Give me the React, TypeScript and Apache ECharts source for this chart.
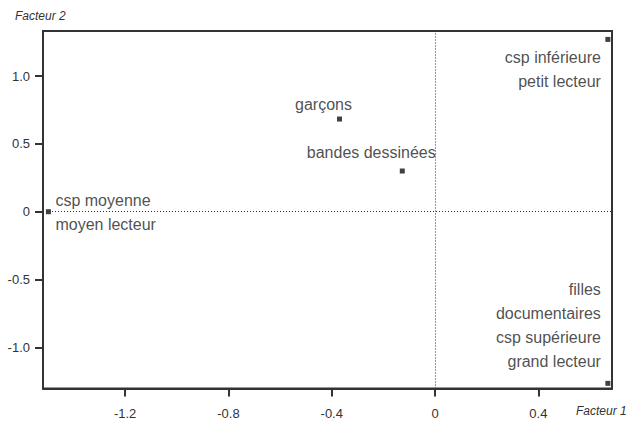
import React, { useEffect, useRef } from "react";
import * as echarts from "echarts";

const pointLabels = [
  "csp inférieure\npetit lecteur",
  "garçons",
  "bandes dessinées",
  "csp moyenne\nmoyen lecteur",
  "filles\ndocumentaires\ncsp supérieure\ngrand lecteur",
];
const factor1 = [0.669, -0.37, -0.127, -1.497, 0.669];
const factor2 = [1.27, 0.683, 0.3, 0.0, -1.265];
const xTicks = [-1.2, -0.8, -0.4, 0, 0.4];
const yTicks = [-1.0, -0.5, 0, 0.5, 1.0];
const xAxisTitle = "Facteur 1";
const yAxisTitle = "Facteur 2";

const FONT = '"Liberation Sans", Arial, Helvetica, sans-serif';

const labelStyles: any[] = [
  { align: "right", offset: [-7, 30] },
  { align: "center", offset: [-16, -15] },
  { align: "center", offset: [-31, -19] },
  { align: "left", offset: [7, 1] },
  { align: "right", offset: [-7, -58] },
];

const fmt = (v: number) => (v === 0 ? "0" : v.toFixed(1));

export default function App() {
  const ref = useRef<HTMLDivElement>(null);
  useEffect(() => {
    if (!ref.current) return;
    const chart = echarts.init(ref.current, undefined, { renderer: "svg" });
    const data = factor1.map((x, i) => ({
      value: [x, factor2[i]],
      name: pointLabels[i],
      label: {
        show: true,
        position: "inside",
        formatter: pointLabels[i],
        align: labelStyles[i].align,
        verticalAlign: "middle",
        offset: labelStyles[i].offset,
      },
    }));
    chart.setOption({
      animation: false,
      backgroundColor: "#ffffff",
      grid: {
        left: 43,
        right: 19,
        top: 31,
        bottom: 32.5,
        show: true,
        borderColor: "#333",
        borderWidth: 2,
        containLabel: false,
        outerBoundsMode: "none",
      },
      xAxis: {
        type: "value",
        min: -1.518,
        max: 0.685,
        splitLine: { show: false },
        axisLine: { show: true, onZero: false, lineStyle: { color: "#333", width: 2 } },
        axisTick: { show: true, length: 8, customValues: xTicks, lineStyle: { color: "#333", width: 2 } },
        axisLabel: {
          customValues: xTicks,
          formatter: (v: number) => fmt(v),
          color: "#333",
          fontFamily: FONT,
          fontSize: 13,
          margin: 18,
        },
      },
      yAxis: {
        type: "value",
        min: -1.303,
        max: 1.332,
        splitLine: { show: false },
        axisLine: { show: true, onZero: false, lineStyle: { color: "#333", width: 2 } },
        axisTick: { show: true, length: 8, customValues: yTicks, lineStyle: { color: "#333", width: 2 } },
        axisLabel: {
          customValues: yTicks,
          formatter: (v: number) => fmt(v),
          color: "#333",
          fontFamily: FONT,
          fontSize: 13,
          margin: 13,
        },
      },
      graphic: [
        {
          type: "text",
          left: 15,
          top: 10,
          style: {
            text: yAxisTitle,
            fill: "#333",
            font: `italic 12px ${FONT}`,
          },
        },
        {
          type: "text",
          left: 576,
          top: 405,
          style: {
            text: xAxisTitle,
            fill: "#333",
            font: `italic 12px ${FONT}`,
          },
        },
      ],
      series: [
        {
          type: "scatter",
          symbol: "rect",
          symbolSize: 5,
          itemStyle: { color: "#111" },
          label: {
            color: "#222",
            fontFamily: FONT,
            fontSize: 16,
            lineHeight: 24,
          },
          data,
          markLine: {
            silent: true,
            symbol: ["none", "none"],
            label: { show: false },
            lineStyle: { type: [1, 2], color: "#333", width: 1 },
            data: [{ xAxis: 0 }, { yAxis: 0 }],
          },
        },
      ],
    });
    return () => chart.dispose();
  }, []);
  return (
    <div
      ref={ref}
      style={{ position: "fixed", left: 0, top: 0, width: 631, height: 421 }}
    />
  );
}
